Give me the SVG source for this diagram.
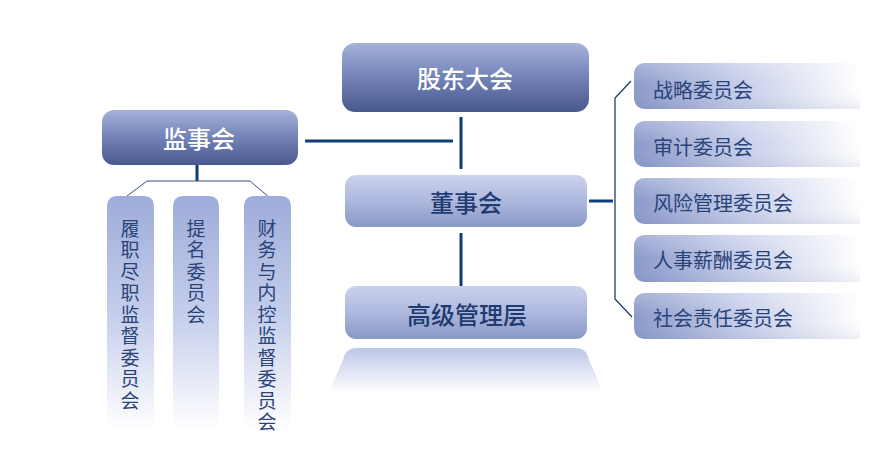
<svg xmlns="http://www.w3.org/2000/svg" width="893" height="458" viewBox="0 0 893 458">
<defs>
<linearGradient id="gDark" x1="0" y1="0" x2="0" y2="1">
<stop offset="0" stop-color="#a6b2da"/>
<stop offset="0.45" stop-color="#7887bb"/>
<stop offset="1" stop-color="#48598f"/>
</linearGradient>
<linearGradient id="gLight" x1="0" y1="0" x2="0" y2="1">
<stop offset="0" stop-color="#cbd2ec"/>
<stop offset="0.5" stop-color="#adb8de"/>
<stop offset="1" stop-color="#8a98c6"/>
</linearGradient>
<linearGradient id="gRefl" x1="0" y1="0" x2="0" y2="1">
<stop offset="0" stop-color="#bcc6e6"/>
<stop offset="0.5" stop-color="#dde2f3"/>
<stop offset="1" stop-color="#ffffff"/>
</linearGradient>
<linearGradient id="gRight" x1="0" y1="0" x2="1" y2="0">
<stop offset="0" stop-color="#8c9acb"/>
<stop offset="0.45" stop-color="#c3cbe8"/>
<stop offset="1" stop-color="#ffffff"/>
</linearGradient>
<linearGradient id="gRightHi" x1="0" y1="0" x2="0" y2="1">
<stop offset="0" stop-color="#ffffff" stop-opacity="0.25"/>
<stop offset="0.5" stop-color="#ffffff" stop-opacity="0"/>
<stop offset="1" stop-color="#303c70" stop-opacity="0.08"/>
</linearGradient>
<linearGradient id="gVert" x1="0" y1="0" x2="0" y2="1">
<stop offset="0" stop-color="#9eacd9"/>
<stop offset="0.5" stop-color="#c4cdeb"/>
<stop offset="1" stop-color="#ffffff"/>
</linearGradient>
<style>
.t { font-family: "Noto Sans CJK SC", "Noto Sans", sans-serif; }
.tw { fill: #ffffff; font-size: 24px; font-weight: 500; }
.tn { fill: #1f3b70; font-size: 24px; font-weight: 500; }
.tr { fill: #2a4478; font-size: 20px; }
.tv { fill: #2a4478; font-size: 19px; writing-mode: vertical-rl; letter-spacing: 2.5px; }
.thick { stroke: #0f3d78; stroke-width: 3; fill: none; }
.thin { stroke: #1f3c70; stroke-width: 1.3; fill: none; }
.thin2 { stroke: #3c4f80; stroke-width: 1; fill: none; }
</style>
</defs>
<rect width="893" height="458" fill="#ffffff"/>

<g id="connectors">
<line class="thick" x1="461" y1="117" x2="461" y2="169"/>
<line class="thick" x1="305" y1="141" x2="453" y2="141"/>
<line class="thick" x1="461" y1="233" x2="461" y2="286"/>
<line class="thick" x1="589" y1="201" x2="613" y2="201"/>
<polyline class="thin" points="631,81 615,98 615,299 632,317"/>
<line class="thick" x1="197" y1="165" x2="197" y2="181"/>
<polyline class="thin2" points="127,196 147,181 250,181 270,198"/>
</g>

<g id="gudong">
<rect x="342" y="43" width="247" height="69" rx="13" fill="url(#gDark)"/>
<text class="t tw" x="465" y="77" text-anchor="middle" dominant-baseline="central">股东大会</text>
</g>

<g id="jianshi">
<rect x="102" y="110" width="196" height="55" rx="12" fill="url(#gDark)"/>
<text class="t tw" x="199" y="137" text-anchor="middle" dominant-baseline="central">监事会</text>
</g>

<g id="dongshi">
<rect x="345" y="175" width="242" height="52" rx="11" fill="url(#gLight)"/>
<text class="t tn" x="466" y="201" text-anchor="middle" dominant-baseline="central">董事会</text>
</g>

<g id="gaoji">
<rect x="345" y="286" width="242" height="53" rx="11" fill="url(#gLight)"/>
<text class="t tn" x="467" y="313" text-anchor="middle" dominant-baseline="central">高级管理层</text>
</g>

<g id="reflection">
<path d="M357,348 L575,348 Q587,348 589,360 L603,392 L329,392 L343,360 Q345,348 357,348 Z" fill="url(#gRefl)"/>
</g>

<g id="zhanlue">
<path d="M646,63 H860 V109 H646 Q634,109 634,97 V75 Q634,63 646,63 Z" fill="url(#gRight)"/>
<path d="M646,63 H860 V109 H646 Q634,109 634,97 V75 Q634,63 646,63 Z" fill="url(#gRightHi)"/>
<text class="t tr" x="653" y="89" dominant-baseline="central">战略委员会</text>
</g>
<g id="shenji">
<path d="M646,121 H860 V167 H646 Q634,167 634,155 V133 Q634,121 646,121 Z" fill="url(#gRight)"/>
<path d="M646,121 H860 V167 H646 Q634,167 634,155 V133 Q634,121 646,121 Z" fill="url(#gRightHi)"/>
<text class="t tr" x="653" y="146" dominant-baseline="central">审计委员会</text>
</g>
<g id="fengxian">
<path d="M646,178 H860 V224 H646 Q634,224 634,212 V190 Q634,178 646,178 Z" fill="url(#gRight)"/>
<path d="M646,178 H860 V224 H646 Q634,224 634,212 V190 Q634,178 646,178 Z" fill="url(#gRightHi)"/>
<text class="t tr" x="653" y="202" dominant-baseline="central">风险管理委员会</text>
</g>
<g id="renshi">
<path d="M646,235 H860 V282 H646 Q634,282 634,270 V247 Q634,235 646,235 Z" fill="url(#gRight)"/>
<path d="M646,235 H860 V282 H646 Q634,282 634,270 V247 Q634,235 646,235 Z" fill="url(#gRightHi)"/>
<text class="t tr" x="653" y="259" dominant-baseline="central">人事薪酬委员会</text>
</g>
<g id="shehui">
<path d="M646,293 H860 V339 H646 Q634,339 634,327 V305 Q634,293 646,293 Z" fill="url(#gRight)"/>
<path d="M646,293 H860 V339 H646 Q634,339 634,327 V305 Q634,293 646,293 Z" fill="url(#gRightHi)"/>
<text class="t tr" x="653" y="317" dominant-baseline="central">社会责任委员会</text>
</g>

<g id="lvzhi">
<path d="M118,196 H143 Q154,196 154,207 V430 H107 V207 Q107,196 118,196 Z" fill="url(#gVert)"/>
<text class="t tv" x="130" y="219">履职尽职监督委员会</text>
</g>
<g id="timing">
<path d="M184,196 H208 Q219,196 219,207 V430 H173 V207 Q173,196 184,196 Z" fill="url(#gVert)"/>
<text class="t tv" x="196" y="219">提名委员会</text>
</g>
<g id="caiwu">
<path d="M255,196 H280 Q291,196 291,207 V430 H244 V207 Q244,196 255,196 Z" fill="url(#gVert)"/>
<text class="t tv" x="267" y="219">财务与内控监督委员会</text>
</g>
</svg>
